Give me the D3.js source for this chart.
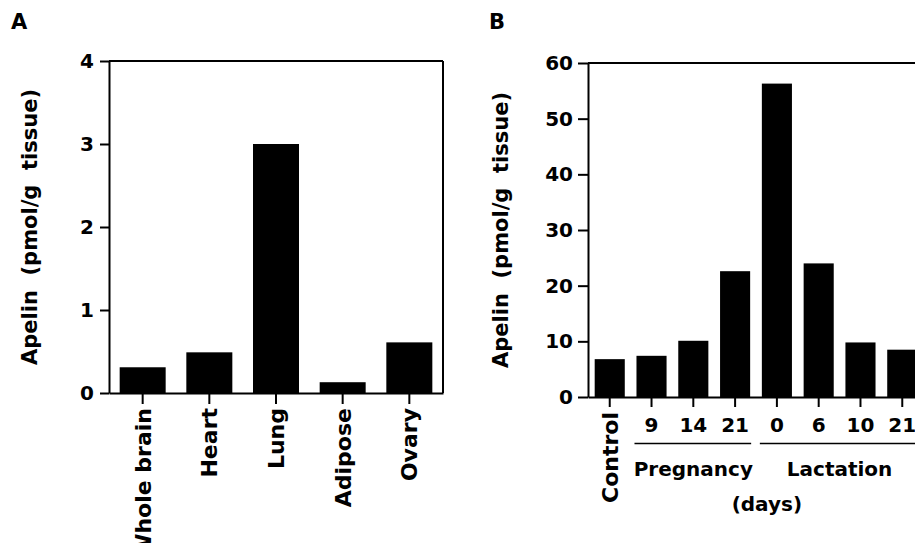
<!DOCTYPE html>
<html>
<head>
<meta charset="utf-8">
<script src="https://cdn.jsdelivr.net/npm/d3@7"></script>
<style>
  body { margin: 0; background: #fff; }
  svg { display: block; font-family: "DejaVu Sans", sans-serif; font-weight: bold; }
  text { white-space: pre; fill: #000; }
</style>
</head>
<body>
<div id="chart"></div>
<script>
// panel A: tissues
const tissues = ["Whole brain", "Heart", "Lung", "Adipose", "Ovary"];
const tissueValues = [0.31, 0.49, 3.0, 0.13, 0.61];
const ticksA = [0, 1, 2, 3, 4];

// panel B: pregnancy / lactation time course
const stages = ["ctl", "p9", "p14", "p21", "l0", "l6", "l10", "l21"];
const stageLabels = ["Control", "9", "14", "21", "0", "6", "10", "21"];
const stageValues = [6.8, 7.4, 10.1, 22.6, 56.3, 24.0, 9.8, 8.5];
const ticksB = [0, 10, 20, 30, 40, 50, 60];
const groups = [
  { name: "Pregnancy", from: "p9", to: "p21" },
  { name: "Lactation", from: "l0", to: "l21" }
];

const yTitle = "Apelin  (pmol/g  tissue)";

const svg = d3.select("#chart").append("svg")
  .attr("width", 915)
  .attr("height", 543);

// ---------- panel A ----------
const xA = d3.scaleBand().domain(tissues).range([109, 443])
  .paddingInner(0.31).paddingOuter(0.16);
const yA = d3.scaleLinear().domain([0, 4]).range([393, 61]);

const gA = svg.append("g");

gA.selectAll(".bar")
  .data(tissues)
  .enter().append("rect")
  .attr("class", "bar")
  .attr("x", d => xA(d))
  .attr("y", (d, i) => yA(tissueValues[i]))
  .attr("width", xA.bandwidth())
  .attr("height", (d, i) => yA(0) - yA(tissueValues[i]))
  .attr("fill", "#000");

// box
gA.append("line").attr("x1", 109).attr("x2", 443).attr("y1", yA(4)).attr("y2", yA(4))
  .attr("stroke", "#000").attr("stroke-width", 2);
gA.append("line").attr("x1", 443).attr("x2", 443).attr("y1", yA(4)).attr("y2", yA(0))
  .attr("stroke", "#000").attr("stroke-width", 2);

gA.append("g")
  .attr("transform", "translate(109,0)")
  .call(d3.axisLeft(yA).tickValues(ticksA).tickFormat(d3.format("d"))
    .tickSize(9).tickSizeOuter(0).tickPadding(6));

const axAx = gA.append("g")
  .attr("transform", "translate(0," + yA(0) + ")")
  .call(d3.axisBottom(xA).tickSize(11).tickSizeOuter(0));
axAx.selectAll("text")
  .attr("transform", "rotate(-90)")
  .attr("text-anchor", "end")
  .attr("x", -15)
  .attr("y", 0)
  .attr("dy", "0.36em")
  .style("font-size", "22px");

gA.append("text")
  .attr("transform", "translate(37," + yA(2) + ") rotate(-90)")
  .attr("text-anchor", "middle")
  .style("font-size", "21px")
  .text(yTitle);

gA.append("text").attr("x", 11).attr("y", 29).style("font-size", "21px").text("A");

// ---------- panel B ----------
const xB = d3.scaleBand().domain(stages).range([588, 924])
  .paddingInner(0.28).paddingOuter(0.16);
const yB = d3.scaleLinear().domain([0, 60]).range([397, 63]);

const gB = svg.append("g");

gB.selectAll(".bar")
  .data(stages)
  .enter().append("rect")
  .attr("class", "bar")
  .attr("x", d => xB(d))
  .attr("y", (d, i) => yB(stageValues[i]))
  .attr("width", xB.bandwidth())
  .attr("height", (d, i) => yB(0) - yB(stageValues[i]))
  .attr("fill", "#000");

gB.append("line").attr("x1", 588).attr("x2", 924).attr("y1", yB(60)).attr("y2", yB(60))
  .attr("stroke", "#000").attr("stroke-width", 2);

gB.append("g")
  .attr("transform", "translate(588,0)")
  .call(d3.axisLeft(yB).tickValues(ticksB).tickFormat(d3.format("d"))
    .tickSize(10).tickSizeOuter(0).tickPadding(5));

const axBx = gB.append("g")
  .attr("transform", "translate(0," + yB(0) + ")")
  .call(d3.axisBottom(xB).tickSize(10).tickSizeOuter(0)
    .tickFormat((d, i) => stageLabels[i]));
axBx.selectAll("text")
  .attr("y", 19)
  .attr("dy", "0.8em")
  .style("font-size", "20px");
// control label stands vertical
axBx.selectAll("text").filter(d => d === "ctl")
  .attr("transform", "rotate(-90)")
  .attr("text-anchor", "end")
  .attr("x", -15)
  .attr("y", 0)
  .attr("dy", "0.36em")
  .style("font-size", "22px");

groups.forEach(g => {
  const x1 = xB(g.from) - 2, x2 = xB(g.to) + xB.bandwidth() + 1;
  gB.append("line").attr("x1", x1).attr("x2", x2)
    .attr("y1", 443.5).attr("y2", 443.5)
    .attr("stroke", "#000").attr("stroke-width", 1.6);
  gB.append("text")
    .attr("x", (xB(g.from) + xB(g.to) + xB.bandwidth()) / 2)
    .attr("y", 476)
    .attr("text-anchor", "middle")
    .style("font-size", "20px")
    .text(g.name);
});

gB.append("text")
  .attr("x", xB("l0") + 5)
  .attr("y", 511)
  .attr("text-anchor", "middle")
  .style("font-size", "20px")
  .text("(days)");

gB.append("text")
  .attr("transform", "translate(508," + yB(30) + ") rotate(-90)")
  .attr("text-anchor", "middle")
  .style("font-size", "21px")
  .text(yTitle);

gB.append("text").attr("x", 489).attr("y", 29).style("font-size", "21px").text("B");

// axis styling
svg.selectAll(".domain, .tick line").attr("stroke", "#000").attr("stroke-width", 2);
svg.selectAll(".tick text").attr("fill", "#000").style("font-family", "DejaVu Sans").style("font-weight", "bold");
svg.selectAll(".tick text").filter(function () { return !this.style.fontSize; }).style("font-size", "20px");
</script>
</body>
</html>
